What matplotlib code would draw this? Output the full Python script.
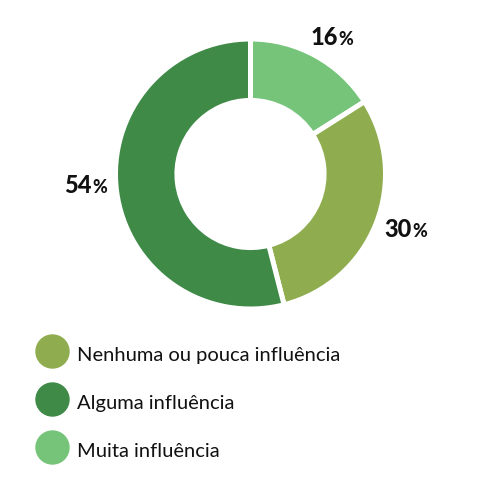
import matplotlib
matplotlib.use('Agg')
import matplotlib.pyplot as plt
from matplotlib.patches import Circle

plt.rcParams['font.family'] = ['Lato', 'DejaVu Sans']

# data (legend order)
categories = ['Nenhuma ou pouca influência', 'Alguma influência', 'Muita influência']
values = [30, 54, 16]
colors = ['#8FAD4F', '#3F8A47', '#76C47A']

# pie goes clockwise from the top: Muita, Nenhuma, Alguma
pie_order = [2, 0, 1]

W, H = 500, 500
fig = plt.figure(figsize=(W / 100, H / 100), dpi=100)

def fx(x):
    return x / W

def fy(y):
    return 1 - y / H

# donut axes, centre (250, 174), radius ~135 px
cx, cy, r = 250.5, 174, 135
ax = fig.add_axes([fx(cx - r), fy(cy + r), 2 * r / W, 2 * r / H])
wedges, _ = ax.pie([values[i] for i in pie_order],
                   colors=[colors[i] for i in pie_order],
                   startangle=90, counterclock=False, radius=1,
                   wedgeprops=dict(width=0.455, edgecolor='white', linewidth=3.6))
ax.set_xlim(-1, 1)
ax.set_ylim(-1, 1)
ax.set_aspect('equal')
ax.axis('off')

# percentage labels, anchor at the join of number and "%" on the baseline
label_pos = {2: (338, 45), 0: (412, 237), 1: (92, 193)}
for i, (x, y) in label_pos.items():
    fig.text(fx(x), fy(y), str(values[i]), ha='right', va='baseline',
             fontsize=17, fontweight=900, color='#111111')
    fig.text(fx(x) + 0.001, fy(y), '%', ha='left', va='baseline',
             fontsize=13, fontweight=900, color='#111111')

# legend
leg_y = [351.5, 399.5, 447.5]
for cat, col, y in zip(categories, colors, leg_y):
    fig.add_artist(Circle((fx(52.5), fy(y)), 16.5 / W, color=col,
                          transform=fig.transFigure))
    fig.text(fx(77), fy(y + 9.5), cat, ha='left', va='baseline',
             fontsize=14.5, color='#111111')

fig.savefig('out.png', dpi=100, facecolor='white')
